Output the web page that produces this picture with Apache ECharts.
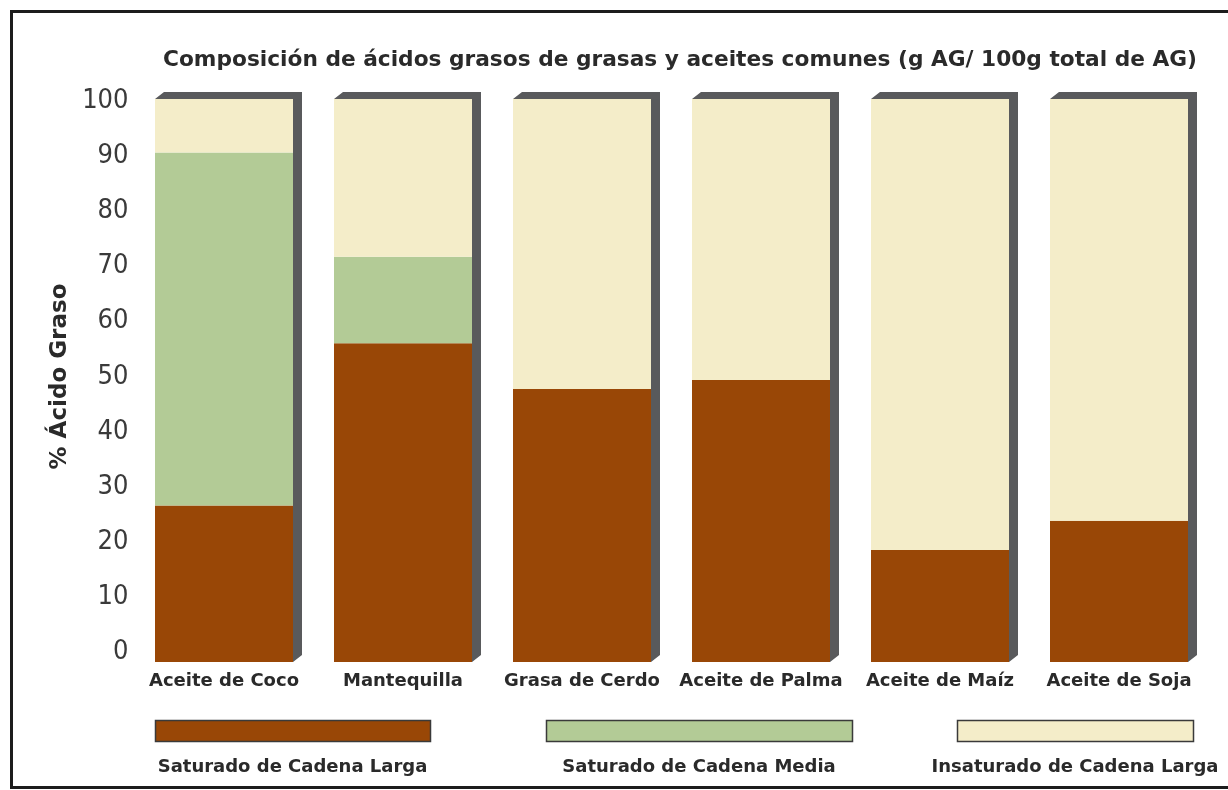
<!DOCTYPE html>
<html>
<head>
<meta charset="utf-8">
<script src="https://cdn.jsdelivr.net/npm/echarts@6/dist/echarts.min.js"></script>
<style>
  html, body { margin: 0; padding: 0; background: #ffffff; }
  #chart { width: 1228px; height: 790px; }
</style>
</head>
<body>
<div id="chart"></div>
<script>
// Fat / oil categories on the x axis
const categories = ['Aceite de Coco', 'Mantequilla', 'Grasa de Cerdo', 'Aceite de Palma', 'Aceite de Maíz', 'Aceite de Soja'];

// Stacked composition, g fatty acid per 100 g of total fatty acids
const saturadoLarga = [27.8, 56.6, 48.5, 50.1, 19.9, 25.1];
const saturadoMedia = [62.7, 15.4, 0, 0, 0, 0];
const insaturadoLarga = [9.5, 28.0, 51.5, 49.9, 80.1, 74.9];

const seriesNames = ['Saturado de Cadena Larga', 'Saturado de Cadena Media', 'Insaturado de Cadena Larga'];
const yTicks = [0, 10, 20, 30, 40, 50, 60, 70, 80, 90, 100];

const titleText = 'Composición de ácidos grasos de grasas y aceites comunes (g AG/ 100g total de AG)';
const yAxisTitle = '% Ácido Graso';

const colors = ['#994706', '#b3cb96', '#f4edc9'];
const sideColor = '#595a5c';
const BAR_W = 138;
const DEPTH_X = 9, DEPTH_Y = 7;

const totals = categories.map((c, i) => saturadoLarga[i] + saturadoMedia[i] + insaturadoLarga[i]);

const chart = echarts.init(document.getElementById('chart'), null, { renderer: 'canvas' });

const stacks = [saturadoLarga, saturadoMedia, insaturadoLarga];

// Legend swatches with their captions underneath
const legendBoxes = [[155, 430], [546, 852], [957, 1193]];
const legendGraphics = [];
seriesNames.forEach((name, k) => {
  const [x0, x1] = legendBoxes[k];
  legendGraphics.push({
    type: 'rect',
    shape: { x: x0 + 0.5, y: 720.5, width: x1 - x0, height: 21 },
    style: { fill: colors[k], stroke: '#3a3a3a', lineWidth: 1.5 }
  });
  legendGraphics.push({
    type: 'text',
    x: (x0 + x1) / 2, y: 767,
    style: {
      text: name, fill: '#2a2a2a', align: 'center', verticalAlign: 'middle',
      font: 'bold 18px "DejaVu Sans"'
    }
  });
});

const option = {
  animation: false,
  backgroundColor: '#ffffff',
  title: {
    text: titleText,
    left: 675, top: 44, textAlign: 'center',
    textStyle: { fontFamily: 'DejaVu Sans', fontWeight: 'bold', fontSize: 21.7, color: '#2a2a2a' }
  },
  grid: [
    { left: 134.5, right: 19.5, top: 99, bottom: 128 },
    { left: 134.5, right: 19.5, top: 101, bottom: 138 }
  ],
  xAxis: [
    {
      type: 'category', gridIndex: 0, data: categories,
      axisLine: { show: false }, axisTick: { show: false },
      axisLabel: {
        margin: 10, interval: 0,
        fontFamily: 'DejaVu Sans', fontWeight: 'bold', fontSize: 18, color: '#2a2a2a'
      }
    },
    { type: 'value', gridIndex: 1, show: false, min: 0, max: 1 }
  ],
  yAxis: [
    { type: 'value', gridIndex: 0, min: 0, max: 100, show: false },
    {
      type: 'value', gridIndex: 1, min: yTicks[0], max: yTicks[yTicks.length - 1], interval: 10,
      axisLine: { show: false }, axisTick: { show: false }, splitLine: { show: false },
      axisLabel: {
        margin: 6, fontFamily: '"DejaVu Sans Condensed", sans-serif',
        fontSize: 27, color: '#3a3a3a'
      },
      name: yAxisTitle, nameLocation: 'middle', nameGap: 60, nameRotate: 90,
      nameTextStyle: { fontFamily: 'DejaVu Sans', fontWeight: 'bold', fontSize: 23, color: '#2a2a2a' }
    }
  ],
  series: [
    {
      // dark depth faces drawn behind each full stack
      type: 'custom', xAxisIndex: 0, yAxisIndex: 0, z: 1, clip: false,
      data: totals.map((t, i) => [i, t]),
      renderItem: function (params, api) {
        const top = api.coord([api.value(0), api.value(1)]);
        const bot = api.coord([api.value(0), 0]);
        const xl = top[0] - BAR_W / 2, xr = top[0] + BAR_W / 2;
        return {
          type: 'polygon',
          shape: {
            points: [
              [xl, top[1]], [xl + DEPTH_X, top[1] - DEPTH_Y], [xr + DEPTH_X, top[1] - DEPTH_Y],
              [xr + DEPTH_X, bot[1] - DEPTH_Y], [xr, bot[1]], [xr, top[1]]
            ]
          },
          style: { fill: sideColor }
        };
      }
    }
  ].concat(stacks.map((vals, k) => ({
    name: seriesNames[k],
    type: 'bar', stack: 'total', xAxisIndex: 0, yAxisIndex: 0, z: 2,
    barWidth: BAR_W,
    data: vals,
    itemStyle: { color: colors[k] }
  }))),
  graphic: [
    {
      type: 'rect', silent: true, z: 100,
      shape: { x: 11.5, y: 11.5, width: 1240, height: 776 },
      style: { fill: 'none', stroke: '#1c1c1c', lineWidth: 3 }
    }
  ].concat(legendGraphics)
};

chart.setOption(option);
</script>
</body>
</html>
